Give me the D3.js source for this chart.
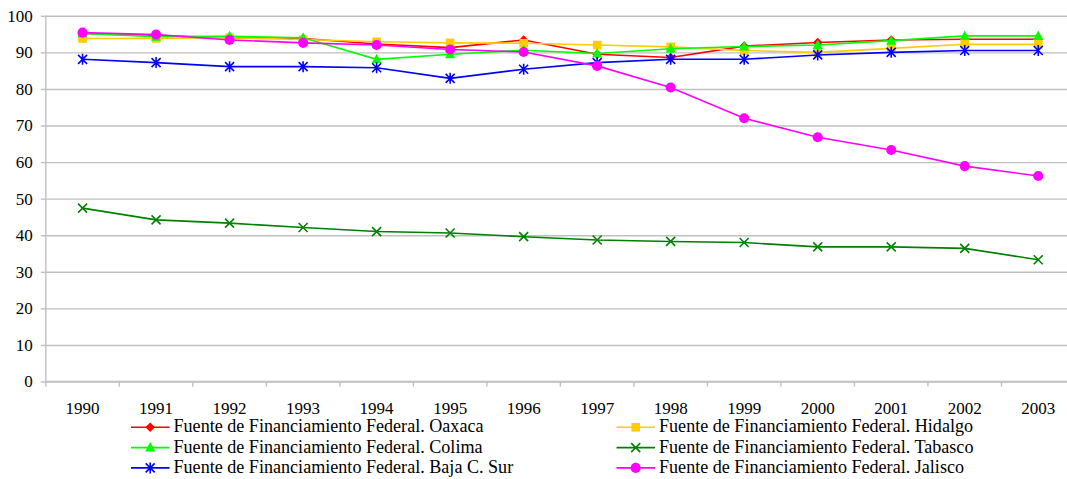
<!DOCTYPE html>
<html>
<head>
<meta charset="utf-8">
<script src="https://cdn.jsdelivr.net/npm/d3@7"></script>
<style>
  body { margin: 0; background: #fff; }
  svg { display: block; }
</style>
</head>
<body>
<script>
// Years along the category axis
const years = ["1990", "1991", "1992", "1993", "1994", "1995", "1996",
               "1997", "1998", "1999", "2000", "2001", "2002", "2003"];

// Series values (percent)
const oaxaca  = [95.2, 94.6, 94.0, 93.8, 92.3, 91.3, 93.4, 89.5, 88.6, 91.7, 92.7, 93.4, 93.6, 93.6];
const hidalgo = [93.8, 93.8, 94.0, 93.5, 92.9, 92.6, 92.5, 92.0, 91.5, 90.5, 90.0, 91.1, 92.2, 92.2];
const colima  = [95.2, 94.3, 94.4, 94.0, 88.1, 89.5, 90.6, 89.7, 91.0, 91.6, 92.0, 93.2, 94.5, 94.5];
const tabasco = [47.4, 44.2, 43.3, 42.1, 41.0, 40.6, 39.6, 38.7, 38.3, 38.0, 36.8, 36.8, 36.4, 33.3];
const bajaSur = [88.1, 87.2, 86.1, 86.1, 85.8, 82.9, 85.4, 87.2, 88.1, 88.1, 89.3, 90.0, 90.5, 90.5];
const jalisco = [95.4, 94.9, 93.4, 92.6, 92.0, 90.8, 90.1, 86.3, 80.4, 72.0, 66.8, 63.3, 58.9, 56.2];

const yTicks = [0, 10, 20, 30, 40, 50, 60, 70, 80, 90, 100];

const seriesNames = [
  "Fuente de Financiamiento Federal. Oaxaca",
  "Fuente de Financiamiento Federal. Hidalgo",
  "Fuente de Financiamiento Federal. Colima",
  "Fuente de Financiamiento Federal. Tabasco",
  "Fuente de Financiamiento Federal. Baja C. Sur",
  "Fuente de Financiamiento Federal. Jalisco"
];
const seriesValues = [oaxaca, hidalgo, colima, tabasco, bajaSur, jalisco];
const seriesColors = ["#ff0000", "#ffcc00", "#00ff00", "#008000", "#0000ff", "#ff00ff"];
const seriesMarkers = ["diamond", "square", "triangle", "x", "star", "circle"];

const FONT = "'Liberation Serif', 'Times New Roman', Times, serif";
const width = 1067, height = 479;
const plot = { left: 45.8, right: 1075, top: 15.8, bottom: 381.5 };

const svg = d3.select("body").append("svg")
  .attr("width", width)
  .attr("height", height);

const x = d3.scaleBand().domain(years).range([plot.left, plot.right]).padding(0);
const y = d3.scaleLinear().domain([0, 100]).range([plot.bottom, plot.top]);

// marker path for a given shape, centred on 0,0
function markerPath(kind) {
  if (kind === "diamond") return "M0,-4.8L4.8,0L0,4.8L-4.8,0Z";
  if (kind === "square") return "M-4.3,-4.3H4.3V4.3H-4.3Z";
  if (kind === "triangle") return "M0,-5.5L5,4L-5,4Z";
  if (kind === "x") return "M-4.5,-4.5L4.5,4.5M-4.5,4.5L4.5,-4.5";
  if (kind === "star") return "M-4.5,-4.5L4.5,4.5M-4.5,4.5L4.5,-4.5M0,-5.5V5.5";
  return d3.symbol(d3.symbolCircle, 80)();
}
const strokedMarkers = { x: true, star: true };

// horizontal gridlines
const grid = svg.append("g")
  .attr("transform", `translate(${plot.left},0)`)
  .call(d3.axisLeft(y).tickValues(yTicks).tickSize(-(plot.right - plot.left)).tickFormat(""));
grid.select(".domain").remove();
grid.selectAll("line").attr("stroke", "#c0c0c0").attr("stroke-width", 1.4);

// y axis
const yAxis = svg.append("g")
  .attr("transform", `translate(${plot.left},0)`)
  .call(d3.axisLeft(y).tickValues(yTicks).tickSize(5).tickSizeOuter(0).tickPadding(8));
yAxis.attr("font-family", null).attr("font-size", null);
yAxis.select(".domain").attr("stroke", "#c0c0c0").attr("stroke-width", 1.4)
  .attr("d", `M0,${plot.top}V${plot.bottom + 5}`);
yAxis.selectAll(".tick line").attr("stroke", "#c0c0c0").attr("stroke-width", 1.4);
yAxis.selectAll("text")
  .style("font-size", "17px")
  .style("font-family", FONT)
  .attr("fill", "#000");

// x axis: line, boundary ticks and year labels
const xAxis = svg.append("g").attr("transform", `translate(0,${plot.bottom})`);
xAxis.append("line")
  .attr("x1", plot.left).attr("x2", plot.right)
  .attr("stroke", "#c0c0c0").attr("stroke-width", 1.4);
xAxis.selectAll(".bound")
  .data(years.slice(1))
  .join("line")
  .attr("x1", d => x(d)).attr("x2", d => x(d))
  .attr("y1", 0).attr("y2", 5)
  .attr("stroke", "#c0c0c0").attr("stroke-width", 1.4);
xAxis.selectAll(".year")
  .data(years)
  .join("text")
  .attr("x", d => x(d) + x.bandwidth() / 2)
  .attr("y", 32.5)
  .attr("text-anchor", "middle")
  .style("font-size", "17px")
  .style("font-family", FONT)
  .text(d => d);

// series lines and markers
const line = d3.line()
  .x((d, i) => x(years[i]) + x.bandwidth() / 2)
  .y(d => y(d));

seriesValues.forEach((vals, s) => {
  const g = svg.append("g");
  g.append("path")
    .datum(vals)
    .attr("d", line)
    .attr("fill", "none")
    .attr("stroke", seriesColors[s])
    .attr("stroke-width", 1.6);
  const kind = seriesMarkers[s];
  g.selectAll("path.mk")
    .data(vals)
    .join("path")
    .attr("class", "mk")
    .attr("transform", (d, i) => `translate(${x(years[i]) + x.bandwidth() / 2},${y(d)})`)
    .attr("d", markerPath(kind))
    .attr("fill", strokedMarkers[kind] ? "none" : seriesColors[s])
    .attr("stroke", strokedMarkers[kind] ? seriesColors[s] : "none")
    .attr("stroke-width", 1.6);
});

// legend, two columns
const legendCols = [131, 616.5];
const legendRows = [427.3, 447.6, 467.9];
const legend = svg.append("g");
seriesNames.forEach((name, s) => {
  const lx = legendCols[s % 2], ly = legendRows[Math.floor(s / 2)];
  const item = legend.append("g").attr("transform", `translate(${lx},${ly})`);
  item.append("line")
    .attr("x1", 0).attr("x2", 38.5)
    .attr("stroke", seriesColors[s]).attr("stroke-width", 1.6);
  const kind = seriesMarkers[s];
  item.append("path")
    .attr("transform", "translate(19.2,0)")
    .attr("d", markerPath(kind))
    .attr("fill", strokedMarkers[kind] ? "none" : seriesColors[s])
    .attr("stroke", strokedMarkers[kind] ? seriesColors[s] : "none")
    .attr("stroke-width", 1.6);
  item.append("text")
    .attr("x", 42.5)
    .attr("y", 5)
    .style("font-size", "18.1px")
    .style("font-family", FONT)
    .text(name);
});
</script>
</body>
</html>
